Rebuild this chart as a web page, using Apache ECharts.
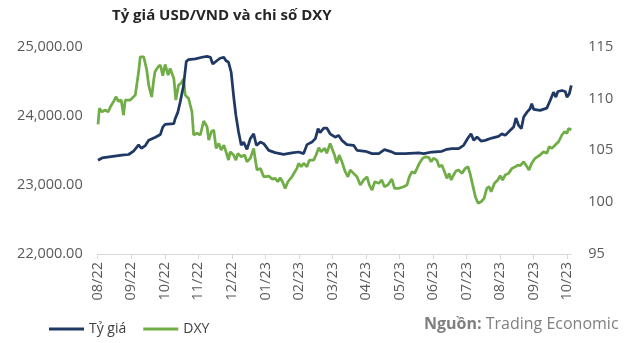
<!DOCTYPE html>
<html>
<head>
<meta charset="utf-8">
<script src="https://cdn.jsdelivr.net/npm/echarts@6/dist/echarts.min.js"></script>
<style>
html,body{margin:0;padding:0;background:#fff;}
#c{width:640px;height:343px;}
</style>
</head>
<body>
<div id="c"></div>
<script>
// Month tick labels (x axis: months since Aug 2022)
const monthLabels = ['08/22','09/22','10/22','11/22','12/22','01/23','02/23','03/23','04/23','05/23','06/23','07/23','08/23','09/23','10/23'];

// Tỷ giá USD/VND: position in months since 08/22, and value
const rateT = [0.01,0.13,0.72,0.92,1.07,1.22,1.30,1.42,1.52,1.72,1.87,1.94,2.01,2.27,2.31,2.39,2.46,2.56,2.64,2.71,2.91,3.11,3.26,3.36,3.43,3.56,3.65,3.76,3.82,3.90,3.98,4.05,4.12,4.20,4.28,4.35,4.45,4.55,4.65,4.73,4.85,4.95,5.10,5.29,5.54,5.79,5.99,6.14,6.24,6.39,6.49,6.57,6.63,6.74,6.83,6.93,7.08,7.18,7.28,7.43,7.63,7.73,7.98,8.18,8.38,8.55,8.72,8.87,9.17,9.57,9.72,9.96,10.26,10.41,10.56,10.76,10.91,11.04,11.13,11.21,11.31,11.43,11.55,11.75,11.95,12.05,12.15,12.30,12.40,12.47,12.55,12.63,12.70,12.80,12.89,12.94,13.00,13.19,13.39,13.49,13.59,13.66,13.72,13.84,13.94,13.99,14.06,14.12];
const rateV = [23356,23390,23430,23440,23490,23580,23530,23570,23645,23690,23730,23837,23876,23886,23958,24053,24200,24440,24785,24814,24824,24847,24861,24847,24750,24800,24833,24847,24800,24775,24630,24294,24006,23765,23573,23620,23515,23670,23740,23573,23620,23597,23500,23467,23443,23462,23476,23453,23583,23620,23670,23814,23756,23823,23823,23740,23690,23717,23645,23583,23573,23500,23486,23453,23453,23510,23486,23453,23453,23462,23453,23476,23486,23515,23525,23525,23573,23678,23740,23645,23693,23635,23645,23678,23703,23740,23717,23790,23837,23967,23861,23814,23982,24053,24102,24174,24092,24078,24111,24222,24342,24270,24352,24366,24352,24270,24318,24440];

// DXY: position in months since 08/22, and value
const dxyT = [0.01,0.05,0.13,0.23,0.31,0.38,0.48,0.55,0.61,0.70,0.77,0.82,0.97,1.12,1.22,1.27,1.37,1.46,1.52,1.61,1.67,1.71,1.81,1.87,1.94,2.01,2.10,2.16,2.27,2.33,2.41,2.48,2.56,2.61,2.71,2.81,2.86,2.96,3.06,3.16,3.26,3.31,3.39,3.46,3.53,3.61,3.68,3.76,3.82,3.90,3.95,4.05,4.12,4.18,4.28,4.38,4.45,4.55,4.65,4.70,4.75,4.85,4.95,5.10,5.20,5.29,5.37,5.44,5.51,5.59,5.67,5.79,5.94,5.99,6.07,6.14,6.24,6.31,6.44,6.51,6.59,6.66,6.77,6.83,6.93,6.98,7.06,7.13,7.20,7.28,7.38,7.46,7.53,7.63,7.73,7.83,7.93,8.03,8.10,8.18,8.26,8.38,8.47,8.55,8.65,8.77,8.85,8.97,9.12,9.22,9.29,9.37,9.45,9.52,9.59,9.69,9.76,9.87,9.94,10.01,10.11,10.18,10.26,10.34,10.41,10.48,10.54,10.61,10.68,10.76,10.86,10.96,11.04,11.10,11.18,11.26,11.34,11.43,11.52,11.60,11.67,11.73,11.83,11.93,12.00,12.07,12.15,12.25,12.35,12.45,12.53,12.60,12.70,12.80,12.86,12.94,13.04,13.19,13.29,13.39,13.46,13.54,13.64,13.74,13.84,13.92,13.99,14.04,14.12];
const dxyV = [107.5,109.05,108.72,108.89,108.72,109.2,109.75,110.17,109.75,109.85,108.4,109.85,109.85,110.33,112.58,114.03,114.03,112.8,111.3,110.15,111.8,112.6,113.1,113.23,112.2,113.29,112.26,112.9,111.94,109.85,111.3,111.46,111.9,110.33,110.0,108.72,106.48,106.64,106.48,107.83,107.28,106.0,106.8,106.96,105.19,105.67,105.03,105.51,104.93,104.06,104.87,104.55,104.06,104.71,104.38,104.55,103.9,104.23,105.19,104.06,103.1,103.26,102.45,102.52,102.23,102.3,101.97,102.36,101.97,101.33,101.97,102.45,103.26,103.75,103.42,103.75,103.42,104.06,104.06,104.55,105.25,104.87,105.19,104.71,105.67,105.83,104.55,103.75,104.55,103.9,102.94,102.45,103.1,102.78,102.45,101.65,102.14,102.45,101.65,101.17,101.97,101.82,102.14,101.49,101.65,102.23,101.33,101.33,101.49,101.65,102.45,102.94,102.78,103.26,103.75,104.23,104.38,104.32,103.9,104.23,104.06,103.42,103.58,102.94,102.3,102.78,102.14,102.62,103.0,103.1,102.78,103.26,103.42,102.78,101.65,100.53,99.89,100.04,100.37,101.33,101.49,101.0,101.82,102.14,102.55,102.14,102.62,102.78,103.26,103.42,103.58,103.52,103.9,103.42,103.1,103.75,104.23,104.55,104.87,104.71,105.35,105.19,105.51,105.83,106.48,106.8,106.64,107.12,106.96];

// Axis ranges / ticks
const leftTicks = {min: 22000, max: 25000, interval: 1000};
const rightTicks = {min: 95, max: 115, interval: 5};

const FONT = "'Open Sans', 'Noto Sans', sans-serif";
const chart = echarts.init(document.getElementById('c'), null, {renderer: 'canvas'});
chart.setOption({
  animation: false,
  backgroundColor: '#ffffff',
  title: {
    text: 'Tỷ giá USD/VND và chi số DXY',
    left: 107, top: 3,
    textStyle: {fontFamily: FONT, fontSize: 15, fontWeight: 'bold', color: '#262626'}
  },
  legend: {
    left: 44, top: 317,
    icon: 'rect', itemWidth: 35, itemHeight: 3, itemGap: 17,
    textStyle: {fontFamily: FONT, fontSize: 14, color: '#404040'},
    data: ['Tỷ giá', 'DXY']
  },
  graphic: [{
    type: 'text', left: 424, top: 316,
    style: {
      text: '{b|Nguồn:} Trading Economic',
      rich: {b: {fontWeight: 'bold', fontFamily: FONT, fontSize: 16, fill: '#7f7f7f'}},
      fontFamily: FONT, fontSize: 16, fill: '#7f7f7f'
    }
  }],
  grid: {left: 97.7, right: 68.7, top: 46.7, bottom: 89, containLabel: false},
  xAxis: {
    type: 'value', min: 0, max: 14.12, interval: 1,
    splitLine: {show: false},
    axisLine: {show: true, lineStyle: {color: '#d9d9d9', width: 1}},
    axisTick: {show: true, length: 5, lineStyle: {color: '#d9d9d9'}},
    axisLabel: {
      rotate: 90, margin: 8, fontFamily: FONT, fontSize: 14.5, color: '#595959',
      showMaxLabel: false,
      formatter: function (v) {
        const r = Math.round(v);
        return Math.abs(v - r) < 1e-6 && monthLabels[r] ? monthLabels[r] : '';
      }
    }
  },
  yAxis: [{
    type: 'value', position: 'left',
    min: leftTicks.min, max: leftTicks.max, interval: leftTicks.interval,
    splitLine: {show: false}, axisLine: {show: false}, axisTick: {show: false},
    axisLabel: {
      margin: 15, fontFamily: FONT, fontSize: 14.5, color: '#595959',
      formatter: v => v.toLocaleString('en-US', {minimumFractionDigits: 2, maximumFractionDigits: 2})
    }
  }, {
    type: 'value', position: 'right',
    min: rightTicks.min, max: rightTicks.max, interval: rightTicks.interval,
    splitLine: {show: false}, axisLine: {show: false}, axisTick: {show: false},
    axisLabel: {margin: 17, fontFamily: FONT, fontSize: 14.5, color: '#595959'}
  }],
  series: [{
    name: 'Tỷ giá', type: 'line', yAxisIndex: 0, showSymbol: false, symbol: 'none',
    lineStyle: {color: '#1f3864', width: 2.75}, itemStyle: {color: '#1f3864'},
    data: rateT.map((t, i) => [t, rateV[i]]), z: 3
  }, {
    name: 'DXY', type: 'line', yAxisIndex: 1, showSymbol: false, symbol: 'none',
    lineStyle: {color: '#70ad47', width: 2.75}, itemStyle: {color: '#70ad47'},
    data: dxyT.map((t, i) => [t, dxyV[i]]), z: 2
  }]
});
</script>
</body>
</html>
